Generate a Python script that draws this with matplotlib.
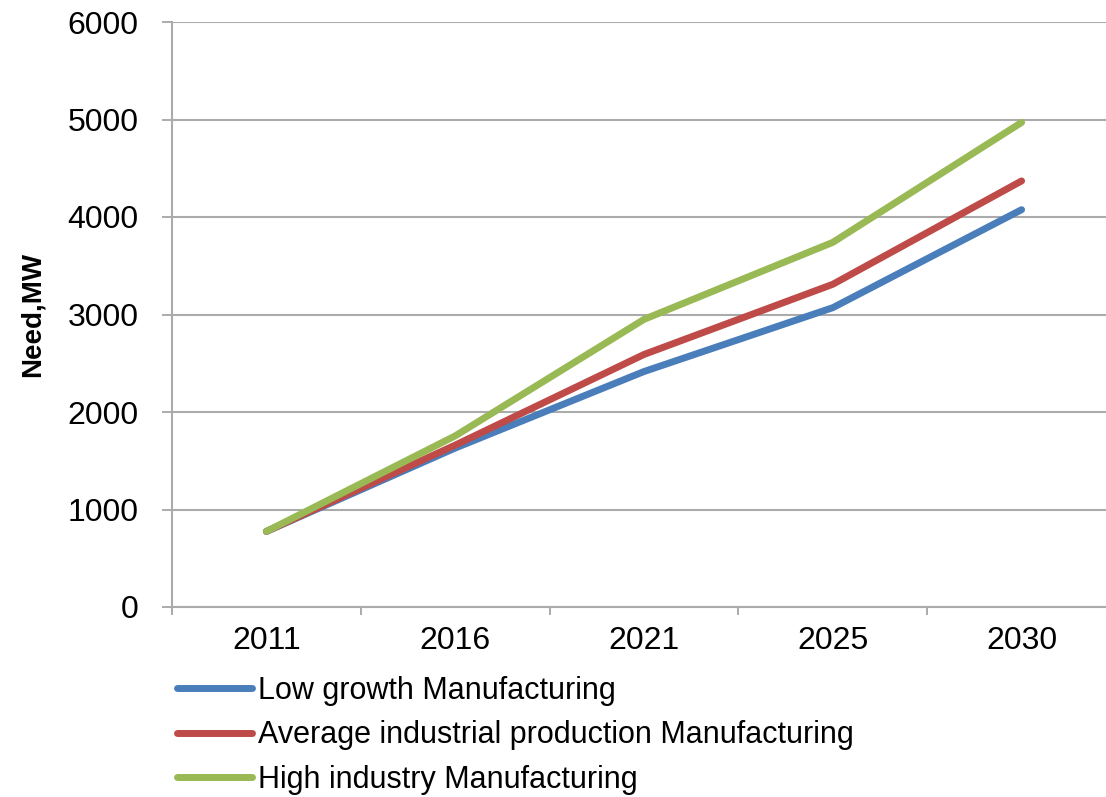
import matplotlib
matplotlib.use("Agg")
import matplotlib.pyplot as plt
import numpy as np

# Demand forecast by scenario
years = ["2011", "2016", "2021", "2025", "2030"]
low_growth = [775, 1630, 2415, 3070, 4075]
average_production = [775, 1660, 2590, 3310, 4370]
high_industry = [775, 1755, 2950, 3740, 4970]
series_labels = [
    "Low growth Manufacturing",
    "Average industrial production Manufacturing",
    "High industry Manufacturing",
]
series_colors = ["#4A7EBB", "#BE4B48", "#98B954"]
y_ticks = [0, 1000, 2000, 3000, 4000, 5000, 6000]

W, H = 1106, 797
fig = plt.figure(figsize=(W / 100, H / 100), dpi=100)
fig.patch.set_facecolor("white")

left, right, top, bottom = 172, 1116, 22, 607
ax = fig.add_axes([left / W, 1 - bottom / H, (right - left) / W, (bottom - top) / H])

font = "Liberation Sans"
grid_color = "#ABABAB"

x = np.arange(len(years))
for vals, lab, col in zip([low_growth, average_production, high_industry],
                          series_labels, series_colors):
    ax.plot(x, vals, color=col, lw=5, label=lab, solid_capstyle="round",
            solid_joinstyle="round", zorder=3)

ax.set_xlim(-0.5, len(years) - 0.5)
ax.set_ylim(0, 6000)

# y axis
ax.set_yticks(y_ticks)
ax.set_yticklabels([str(v) for v in y_ticks], fontsize=23, fontfamily=font)
ax.tick_params(axis="y", which="major", direction="out", length=7, width=1.4,
               color=grid_color, pad=17)
ax.yaxis.grid(True, color=grid_color, lw=1.5, zorder=0)
ax.set_axisbelow(True)

# x axis: ticks at category boundaries, labels centred on categories
ax.set_xticks(np.arange(len(years) + 1) - 0.5)
ax.set_xticklabels([])
ax.set_xticks(x, minor=True)
ax.set_xticklabels(years, minor=True, fontsize=23, fontfamily=font)
ax.tick_params(axis="x", which="major", direction="out", length=6, width=1.4,
               color=grid_color)
ax.tick_params(axis="x", which="minor", length=0, pad=14)

for s in ["top", "right"]:
    ax.spines[s].set_visible(False)
for s in ["left", "bottom"]:
    ax.spines[s].set_color(grid_color)
    ax.spines[s].set_linewidth(1.5)

fig.text(33 / W, 1 - 314 / H, "Need,MW", rotation=90, ha="center", va="center",
         fontsize=20, fontweight="bold", fontfamily=font)

handles, labels = ax.get_legend_handles_labels()
fig.legend(handles, labels, loc="upper left",
           bbox_to_anchor=(177 / W, 1 - 676 / H),
           frameon=False, borderaxespad=0, borderpad=0,
           handlelength=2.45, handletextpad=0.2, labelspacing=0.47,
           prop={"family": font, "size": 22})

fig.savefig("out.png", dpi=100, facecolor="white")
